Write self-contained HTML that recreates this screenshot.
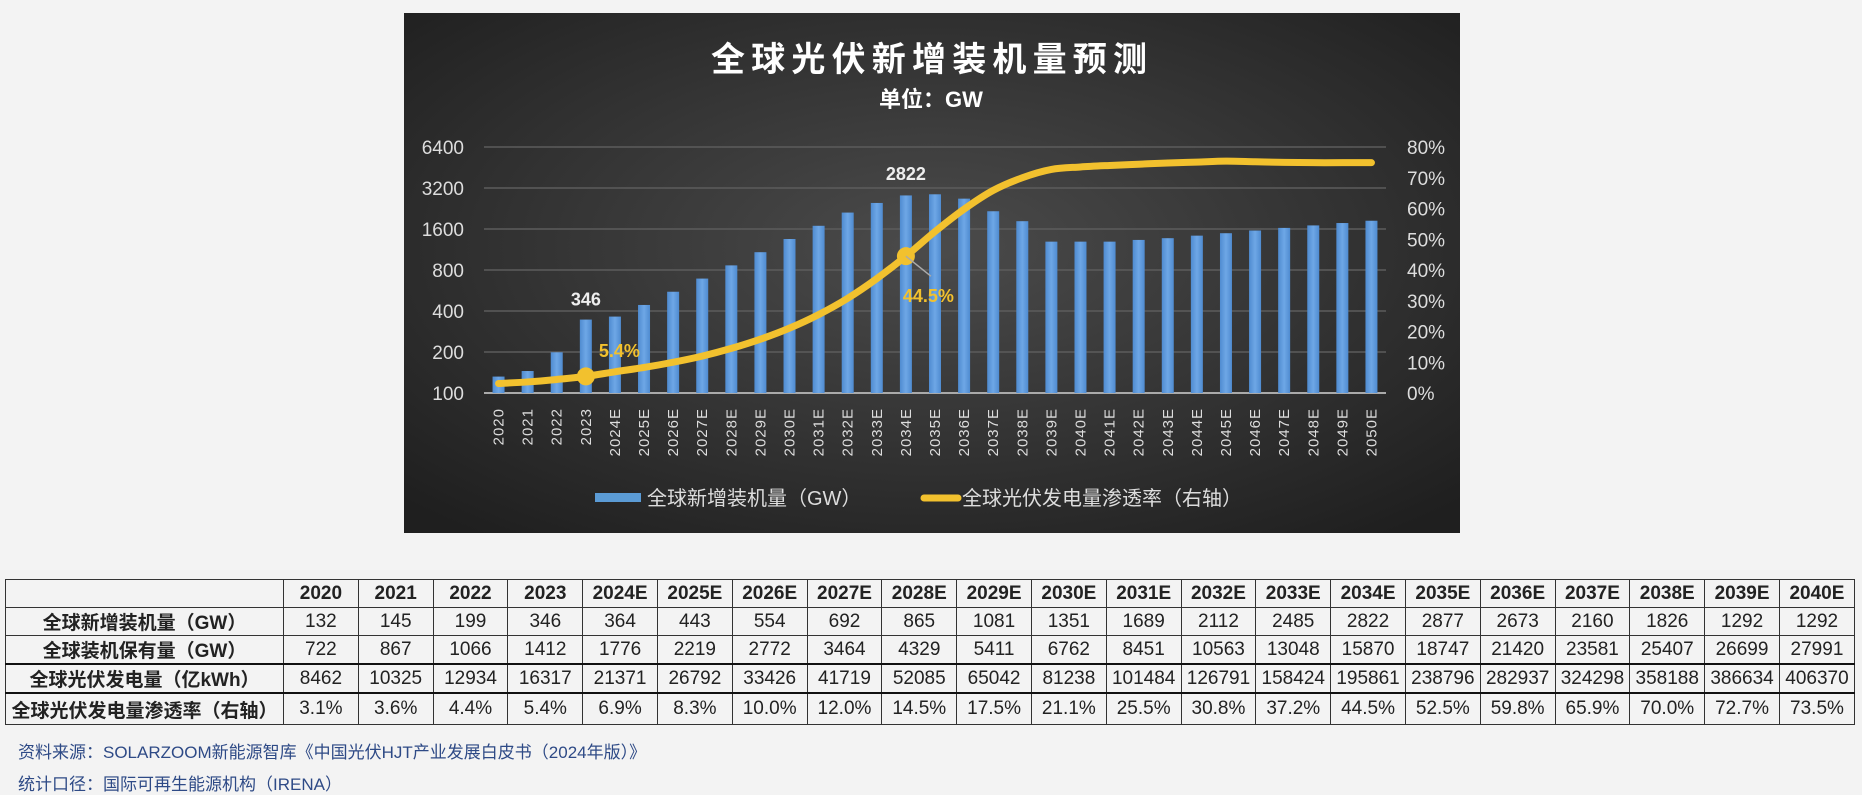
<!DOCTYPE html>
<html><head><meta charset="utf-8"><style>
body{margin:0;width:1862px;height:793px;background:#f3f3f3;font-family:"Liberation Sans","Noto Sans CJK SC",sans-serif;position:relative;overflow:hidden}
#chart{position:absolute;left:404px;top:13px}
table{position:absolute;left:5px;top:579px;border-collapse:collapse;table-layout:fixed;width:1850px}
td{border:1px solid #333;height:27px;text-align:center;font-size:19px;color:#222;padding:0;white-space:nowrap}
td.h{font-weight:bold;width:277px}
tr.hdr td{font-weight:bold}
tr.thick td{border-top:2px solid #111}
.src{position:absolute;left:18px;font-size:17px;color:#2e4a86}
</style></head><body>
<svg id="chart" width="1056" height="520" viewBox="404 13 1056 520">
<defs>
<radialGradient id="bg" cx="0.5" cy="0.45" r="0.7"><stop offset="0" stop-color="#4b4b4b"/><stop offset="1" stop-color="#1f1f1f"/></radialGradient>
<linearGradient id="bar" x1="0" y1="0" x2="1" y2="0"><stop offset="0" stop-color="#4f8bd0"/><stop offset="0.5" stop-color="#6ea7e6"/><stop offset="1" stop-color="#4f8bd0"/></linearGradient>
</defs>
<rect x="404" y="13" width="1056" height="520" fill="url(#bg)"/>
<text x="929" y="71" fill="#fff" font-size="34" font-weight="bold" text-anchor="middle" textLength="436">全球光伏新增装机量预测</text>
<text x="931" y="107" fill="#fff" font-size="22" font-weight="bold" text-anchor="middle">单位：GW</text>
<g id="grid"></g><g id="bars"></g><g id="line"></g><g id="labels"></g>
<g>
<rect x="595" y="493" width="46" height="9" fill="#5b9bd5"/>
<text x="647" y="505" fill="#ddd" font-size="20">全球新增装机量（GW）</text>
<line x1="924" y1="498" x2="958" y2="498" stroke="#f2c12e" stroke-width="7" stroke-linecap="round"/>
<text x="962" y="505" fill="#ddd" font-size="20">全球光伏发电量渗透率（右轴）</text>
</g>
</svg>
<script>
const categories=["2020","2021","2022","2023","2024E","2025E","2026E","2027E","2028E","2029E","2030E","2031E","2032E","2033E","2034E","2035E","2036E","2037E","2038E","2039E","2040E","2041E","2042E","2043E","2044E","2045E","2046E","2047E","2048E","2049E","2050E"];
const newInstall=[132,145,199,346,364,443,554,692,865,1081,1351,1689,2112,2485,2822,2877,2673,2160,1826,1292,1292,1292,1330,1370,1430,1490,1560,1630,1700,1770,1840];
const penetration=[3.1,3.6,4.4,5.4,6.9,8.3,10.0,12.0,14.5,17.5,21.1,25.5,30.8,37.2,44.5,52.5,59.8,65.9,70.0,72.7,73.5,74.0,74.4,74.8,75.1,75.4,75.2,75.0,74.9,74.9,74.9];
const leftTicks=[100,200,400,800,1600,3200,6400];
const rightTicks=[0,10,20,30,40,50,60,70,80];
const NS="http://www.w3.org/2000/svg";
const x0=484,x1=1386,yb=393,yt=147;
const step=(x1-x0)/categories.length;
function xs(i){return x0+step*(i+0.5);}
function yL(v){return yb-(yb-yt)*Math.log2(v/100)/6;}
function yR(p){return yb-(yb-yt)*p/80;}
function mk(tag,attrs,parent,text){const e=document.createElementNS(NS,tag);for(const k in attrs)e.setAttribute(k,attrs[k]);if(text!==undefined)e.textContent=text;parent.appendChild(e);return e;}
const grid=document.getElementById('grid'),bars=document.getElementById('bars'),line=document.getElementById('line'),labels=document.getElementById('labels');
leftTicks.forEach((t,i)=>{
  const y=yL(t);
  const g=mk('line',{x1:x0,x2:x1,y1:y,y2:y,stroke:i===0?'#aaa':'#5c5c5c','stroke-width':i===0?2:1.5},grid);
  
  
  const l=mk('text',{x:464,y:y+7,fill:'#ddd','font-size':19,'text-anchor':'end'},grid,String(t));
  
  
});
rightTicks.forEach(t=>{
  const r=mk('text',{x:1407,y:yR(t)+7,fill:'#ddd','font-size':19},grid,t+'%');
  
  
});
categories.forEach((c,i)=>{
  const x=xs(i),y=yL(newInstall[i]);
  const b=mk('rect',{x:x-6,y:y,width:12,height:yb-y,fill:'url(#bar)'},bars);
  
  
  const t=mk('text',{x:0,y:0,fill:'#ddd','font-size':15,'text-anchor':'end',transform:`translate(${x+5},408) rotate(-90)`,'letter-spacing':'1'},labels,c);
  
  
});
const pts=penetration.map((p,i)=>[xs(i),yR(p)]);
let d='M'+pts[0][0]+','+pts[0][1];
for(let i=0;i<pts.length-1;i++){
  const p0=pts[Math.max(0,i-1)],p1=pts[i],p2=pts[i+1],p3=pts[Math.min(pts.length-1,i+2)];
  d+=` C${p1[0]+(p2[0]-p0[0])/6},${p1[1]+(p2[1]-p0[1])/6} ${p2[0]-(p3[0]-p1[0])/6},${p2[1]-(p3[1]-p1[1])/6} ${p2[0]},${p2[1]}`;
}
const ln=mk('path',{d:d,fill:'none',stroke:'#f2c12e','stroke-width':7,'stroke-linecap':'round'},line);


[3,14].forEach(i=>{
  const m=mk('circle',{cx:pts[i][0],cy:pts[i][1],r:9,fill:'#f2c12e'},line);
  
  
});
const ld=mk('line',{x1:pts[14][0],y1:pts[14][1],x2:pts[14][0]+25,y2:pts[14][1]+20,stroke:'#aaa','stroke-width':1.5},line);


const a1=mk('text',{x:xs(3),y:yL(newInstall[3])-14,fill:'#eee','font-size':18,'font-weight':'bold','text-anchor':'middle'},labels,String(newInstall[3]));


const a2=mk('text',{x:xs(14),y:180,fill:'#eee','font-size':18,'font-weight':'bold','text-anchor':'middle'},labels,String(newInstall[14]));


const a3=mk('text',{x:xs(3)+13,y:357,fill:'#f2c12e','font-size':18,'font-weight':'bold'},labels,penetration[3]+'%');


const a4=mk('text',{x:xs(14)-3,y:302,fill:'#f2c12e','font-size':18,'font-weight':'bold'},labels,penetration[14]+'%');


</script>
<table>
<tr class="hdr"><td class="h"></td><td>2020</td><td>2021</td><td>2022</td><td>2023</td><td>2024E</td><td>2025E</td><td>2026E</td><td>2027E</td><td>2028E</td><td>2029E</td><td>2030E</td><td>2031E</td><td>2032E</td><td>2033E</td><td>2034E</td><td>2035E</td><td>2036E</td><td>2037E</td><td>2038E</td><td>2039E</td><td>2040E</td></tr>
<tr><td class="h">全球新增装机量（GW）</td><td>132</td><td>145</td><td>199</td><td>346</td><td>364</td><td>443</td><td>554</td><td>692</td><td>865</td><td>1081</td><td>1351</td><td>1689</td><td>2112</td><td>2485</td><td>2822</td><td>2877</td><td>2673</td><td>2160</td><td>1826</td><td>1292</td><td>1292</td></tr>
<tr><td class="h">全球装机保有量（GW）</td><td>722</td><td>867</td><td>1066</td><td>1412</td><td>1776</td><td>2219</td><td>2772</td><td>3464</td><td>4329</td><td>5411</td><td>6762</td><td>8451</td><td>10563</td><td>13048</td><td>15870</td><td>18747</td><td>21420</td><td>23581</td><td>25407</td><td>26699</td><td>27991</td></tr>
<tr class="thick"><td class="h">全球光伏发电量（亿kWh）</td><td>8462</td><td>10325</td><td>12934</td><td>16317</td><td>21371</td><td>26792</td><td>33426</td><td>41719</td><td>52085</td><td>65042</td><td>81238</td><td>101484</td><td>126791</td><td>158424</td><td>195861</td><td>238796</td><td>282937</td><td>324298</td><td>358188</td><td>386634</td><td>406370</td></tr>
<tr class="thick"><td class="h" style="height:30px">全球光伏发电量渗透率（右轴）</td><td>3.1%</td><td>3.6%</td><td>4.4%</td><td>5.4%</td><td>6.9%</td><td>8.3%</td><td>10.0%</td><td>12.0%</td><td>14.5%</td><td>17.5%</td><td>21.1%</td><td>25.5%</td><td>30.8%</td><td>37.2%</td><td>44.5%</td><td>52.5%</td><td>59.8%</td><td>65.9%</td><td>70.0%</td><td>72.7%</td><td>73.5%</td></tr>
</table>
<div class="src" style="top:738px">资料来源：SOLARZOOM新能源智库《中国光伏HJT产业发展白皮书（2024年版）》</div>
<div class="src" style="top:770px">统计口径：国际可再生能源机构（IRENA）</div>
</body></html>
